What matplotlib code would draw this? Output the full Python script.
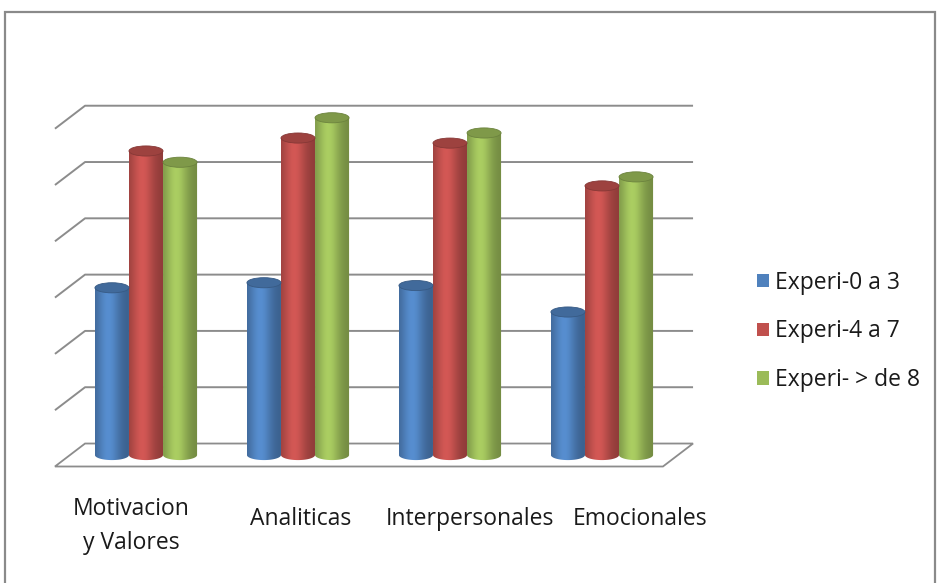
import numpy as np
import matplotlib
matplotlib.use("Agg")
import matplotlib.pyplot as plt
import matplotlib.transforms as mtransforms
from matplotlib.patches import Ellipse, Polygon, PathPatch, Rectangle, Patch
from matplotlib.path import Path
from matplotlib.colors import to_rgb

# ---- data -------------------------------------------------------------
categories = ["Motivacion\ny Valores", "Analiticas", "Interpersonales", "Emocionales"]
series_names = ["Experi-0 a 3", "Experi-4 a 7", "Experi- > de 8"]
exp_0_3 = [2.97, 3.06, 3.01, 2.54]
exp_4_7 = [5.40, 5.63, 5.54, 4.78]
exp_8_plus = [5.20, 5.99, 5.72, 4.94]
grid_levels = [0, 1, 2, 3, 4, 5, 6]

series_values = [exp_0_3, exp_4_7, exp_8_plus]
colors = ["#4F81BD", "#C0504D", "#9BBB59"]

plt.rcParams["font.family"] = ["Open Sans", "DejaVu Sans"]

W, H = 939, 583
fig = plt.figure(figsize=(W / 100, H / 100), dpi=100)
fig.patch.set_facecolor("white")


def px_axes(x0, y0, x1, y1):
    """Axes placed by a pixel box measured from the top-left corner."""
    return fig.add_axes([x0 / W, 1 - y1 / H, (x1 - x0) / W, (y1 - y0) / H])


# chart-area border
fig.patches.append(Rectangle((5 / W, -0.05), 930 / W, 1 - 12 / H + 0.05,
                             transform=fig.transFigure, fill=False,
                             edgecolor="#8a8a8a", lw=1.6, zorder=0))

# ---- pseudo-3D plot area ---------------------------------------------
ax = px_axes(47.2, 97.5, 700.8, 471.9)
ax.set_axis_off()

n_cat = len(categories)
DX, DY = 0.099, 0.204        # half depth of the floor, in data units
bar_w = 0.224               # width of one cylinder
ell_h = 0.18                # height of the cylinder caps
grid_col = "#8c8c8c"

# floor
floor = Polygon([(DX, DY), (n_cat + DX, DY), (n_cat - DX, -DY), (-DX, -DY)],
                closed=True, facecolor="white", edgecolor=grid_col, lw=1.3, zorder=1)
ax.add_patch(floor)

# back-wall gridlines with their side-wall diagonals
for g in grid_levels[1:]:
    ax.plot([-DX, DX, n_cat + DX], [g - DY, g + DY, g + DY],
            color=grid_col, lw=1.4, zorder=1, solid_capstyle="butt")


def shade_strip(base, n=200):
    t = np.linspace(0, 1, n)
    f = np.exp(-((t - 0.38) / 0.33) ** 2)
    k = 0.74 + 0.36 * f
    rgb = np.clip(np.outer(k, to_rgb(base)), 0, 1)
    return rgb[np.newaxis, :, :]


def cylinder(xc, val, color, z):
    x0, x1 = xc - bar_w / 2, xc + bar_w / 2
    th = np.linspace(np.pi, 2 * np.pi, 60)
    arc = np.column_stack([xc + bar_w / 2 * np.cos(th), ell_h / 2 * np.sin(th)])
    verts = np.vstack([[x0, val], arc, [x1, val], [x0, val]])
    codes = [Path.MOVETO] + [Path.LINETO] * (len(verts) - 2) + [Path.CLOSEPOLY]
    body = PathPatch(Path(verts, codes), facecolor="none", edgecolor="none", zorder=z)
    ax.add_patch(body)
    im = ax.imshow(shade_strip(color), extent=[x0, x1, -ell_h, val],
                   aspect="auto", interpolation="bilinear", zorder=z)
    im.set_clip_path(body)
    top_rgb = np.array(to_rgb(color)) * 0.82
    ax.add_patch(Ellipse((xc, val), bar_w, ell_h, facecolor=top_rgb,
                         edgecolor=np.array(to_rgb(color)) * 0.7, lw=0.6, zorder=z + 0.5))


for i in range(n_cat):
    for s, vals in enumerate(series_values):
        xc = i + 0.5 + (s - 1) * bar_w
        cylinder(xc, vals[i], colors[s], 3 + s * 0.01 + i)

ax.set_xlim(-0.15, n_cat + 0.15)
ax.set_ylim(-0.3, 6.35)

# ---- category labels --------------------------------------------------
lab_ax = px_axes(46, 480, 725, 494)
lab_ax.set_xlim(-0.5, n_cat - 0.5)
lab_ax.set_ylim(0, 1)
for sp in lab_ax.spines.values():
    sp.set_visible(False)
lab_ax.set_yticks([])
lab_ax.set_xticks(range(n_cat))
lab_ax.set_xticklabels(categories, fontsize=16.5, color="#1a1a1a",
                       va="center", linespacing=1.53)
lab_ax.tick_params(axis="x", length=0, pad=18)
lab_ax.patch.set_visible(False)

# two-line labels sit a little lower than the single-line ones
nudge = mtransforms.ScaledTranslation(0, -7 / 100, fig.dpi_scale_trans)
for lbl in lab_ax.get_xticklabels():
    if "\n" in lbl.get_text():
        lbl.set_transform(lbl.get_transform() + nudge)

# ---- legend -----------------------------------------------------------
handles = [Patch(facecolor=c, edgecolor="none") for c in colors]
fig.legend(handles, series_names, loc="center left",
           bbox_to_anchor=(736.4 / W, 1 - 331.5 / H), frameon=False,
           fontsize=16.5, handlelength=0.52, handleheight=0.52,
           handletextpad=0.27, labelspacing=1.08, labelcolor="#1a1a1a")

fig.savefig("out.png", dpi=100, facecolor="white")
